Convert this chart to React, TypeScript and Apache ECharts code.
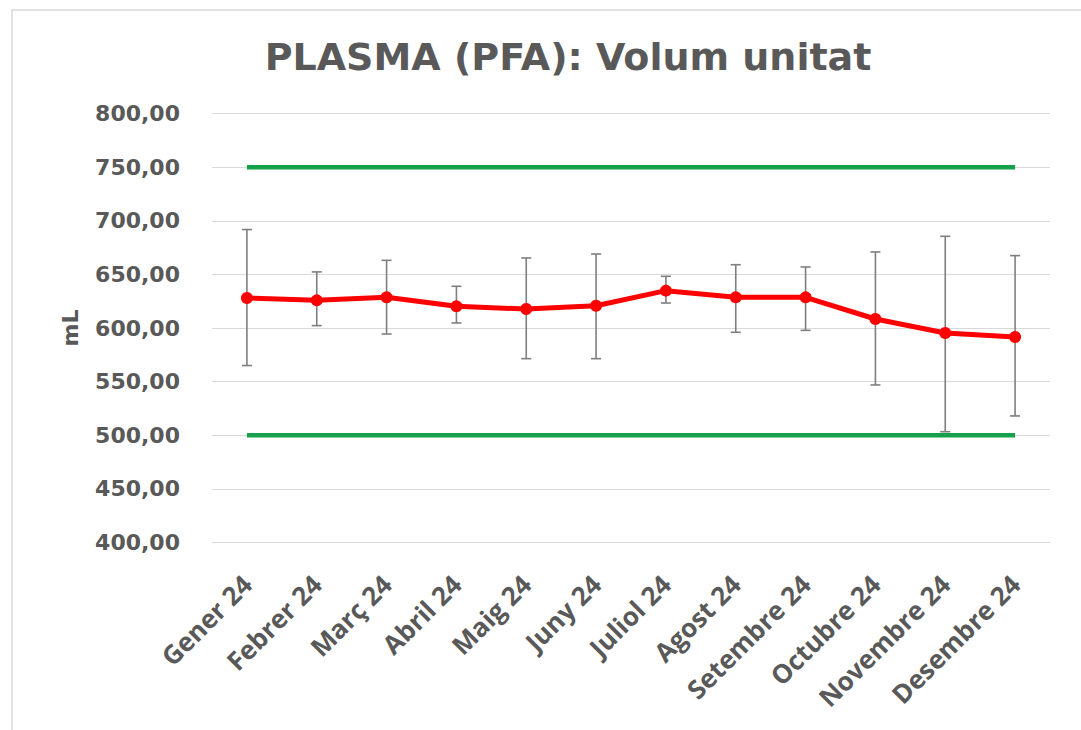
import React, { useEffect, useRef } from "react";
import * as echarts from "echarts";

const categories = [
  "Gener 24", "Febrer 24", "Març 24", "Abril 24", "Maig 24", "Juny 24",
  "Juliol 24", "Agost 24", "Setembre 24", "Octubre 24", "Novembre 24", "Desembre 24",
];
const meanValues = [628, 625.8, 628.6, 620.2, 617.7, 620.8, 634.8, 628.6, 628.6, 608.4, 595.3, 591.6];
const lowValues = [565, 602.2, 594.4, 604.7, 571.4, 571.4, 623.3, 596, 597.8, 546.9, 503.3, 518];
const highValues = [691.8, 652.3, 663.1, 638.9, 665.3, 669, 648.2, 659, 656.9, 670.9, 685.5, 667.5];
const upperLimit = categories.map(() => 750);
const lowerLimit = categories.map(() => 500);
const yMin = 400;
const yMax = 800;
const yStep = 50;

export default function App() {
  const ref = useRef<HTMLDivElement>(null);
  useEffect(() => {
    if (!ref.current) return;
    const chart = echarts.init(ref.current, null, { renderer: "svg" });
    const errData = categories.map((_, i) => [i, lowValues[i], highValues[i]]);
    chart.setOption({
      animation: false,
      backgroundColor: "#ffffff",
      title: {
        text: "PLASMA (PFA): Volum unitat",
        left: 563,
        top: 33,
        textAlign: "center",
        textStyle: { fontFamily: "DejaVu Sans", fontWeight: "bold", fontSize: 38, color: "#595959" },
      },
      graphic: [
        {
          type: "rect",
          shape: { x: 12, y: 10, width: 1200, height: 900 },
          style: { fill: "none", stroke: "#d9d9d9", lineWidth: 1.5 },
          silent: true,
          z: -1,
        },
      ],
      grid: { left: 212, right: 31, top: 113.5, bottom: 187.5 },
      xAxis: {
        type: "category",
        data: categories,
        boundaryGap: true,
        axisLine: { show: true, lineStyle: { color: "#d9d9d9", width: 1 } },
        axisTick: { show: false },
        axisLabel: {
          rotate: 45,
          margin: 37,
          interval: 0,
          fontFamily: "Open Sans",
          fontWeight: "bold",
          fontSize: 26,
          color: "#595959",
        },
      },
      yAxis: {
        type: "value",
        min: yMin,
        max: yMax,
        interval: yStep,
        name: "mL",
        nameLocation: "middle",
        nameGap: 131,
        nameRotate: 90,
        nameTextStyle: { fontFamily: "DejaVu Sans", fontWeight: "bold", fontSize: 22, color: "#595959" },
        axisLine: { show: false },
        axisTick: { show: false },
        splitLine: { lineStyle: { color: "#d9d9d9", width: 1 } },
        axisLabel: {
          margin: 32,
          fontFamily: "DejaVu Sans",
          fontWeight: "bold",
          fontSize: 22,
          color: "#595959",
          formatter: (v: number) => v.toFixed(2).replace(".", ","),
        },
      },
      series: [
        {
          type: "custom",
          name: "err",
          data: errData,
          z: 2,
          renderItem: (params: any, api: any) => {
            const x = api.value(0);
            const lo = api.coord([x, api.value(1)]);
            const hi = api.coord([x, api.value(2)]);
            const hw = 5;
            const style = { stroke: "#7f7f7f", lineWidth: 1.6 };
            return {
              type: "group",
              children: [
                { type: "line", shape: { x1: lo[0], y1: lo[1], x2: hi[0], y2: hi[1] }, style },
                { type: "line", shape: { x1: lo[0] - hw, y1: lo[1], x2: lo[0] + hw, y2: lo[1] }, style },
                { type: "line", shape: { x1: hi[0] - hw, y1: hi[1], x2: hi[0] + hw, y2: hi[1] }, style },
              ],
            };
          },
        },
        {
          type: "line",
          data: upperLimit,
          symbol: "none",
          z: 3,
          lineStyle: { color: "#15a04a", width: 4.5 },
        },
        {
          type: "line",
          data: lowerLimit,
          symbol: "none",
          z: 3,
          lineStyle: { color: "#15a04a", width: 4.5 },
        },
        {
          type: "line",
          data: meanValues,
          symbol: "circle",
          symbolSize: 12,
          z: 4,
          lineStyle: { color: "#ff0000", width: 5 },
          itemStyle: { color: "#ff0000" },
        },
      ],
    });
    return () => chart.dispose();
  }, []);
  return (
    <div
      ref={ref}
      style={{ position: "fixed", left: 0, top: 0, width: 1081, height: 730 }}
    />
  );
}
